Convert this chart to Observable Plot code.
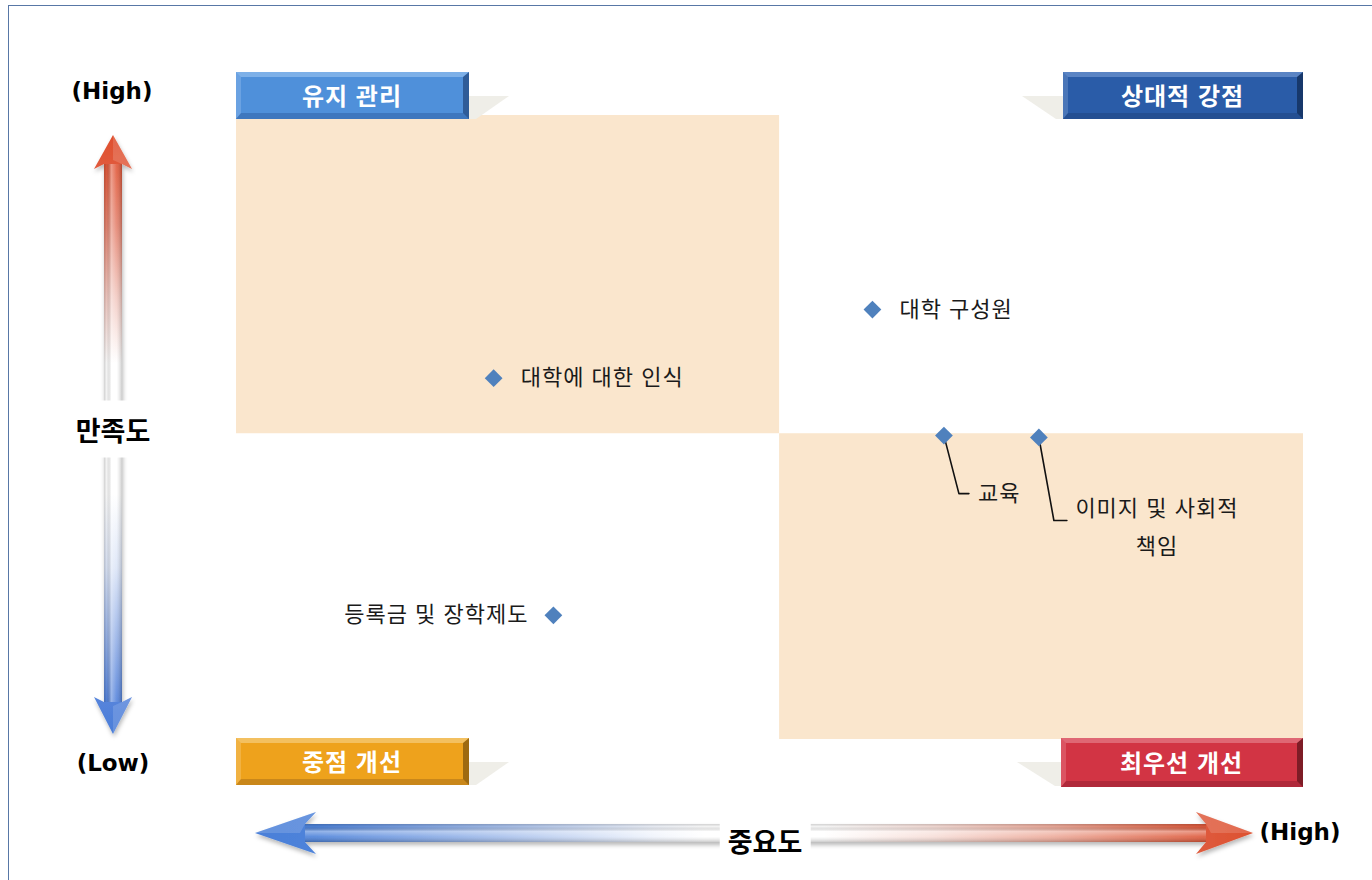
<!DOCTYPE html>
<html lang="ko">
<head>
<meta charset="utf-8">
<script src="https://cdn.jsdelivr.net/npm/d3@7"></script>
<script src="https://cdn.jsdelivr.net/npm/@observablehq/plot@0.6"></script>
<style>
  html, body { margin: 0; padding: 0; background: #fff; overflow: hidden; width: 1372px; height: 880px; }
  #wrap { position: relative; width: 1372px; height: 880px; font-family: "Noto Sans CJK KR", "Noto Sans", sans-serif; }
  #frame { position: absolute; left: 8px; top: 5px; width: 1420px; height: 920px; border-left: 1.5px solid #5877A6; border-top: 1.5px solid #5877A6; }
  #chart, #deco { position: absolute; left: 0; top: 0; }
  .badge { position: absolute; box-sizing: border-box; height: 47px; border-style: solid; border-width: 5px 6px 6px 5px;
           color: #fff; font-weight: 700; font-size: 24px; letter-spacing: 1px; display: flex; align-items: center; justify-content: center;
           line-height: 1; white-space: nowrap; }
  .lbl { position: absolute; transform: translate(-50%, -50%); white-space: nowrap; line-height: 1; color: #000; font-weight: 700; }
  .hl { font-family: "DejaVu Sans", sans-serif; font-size: 23px; }
  .ax { font-family: "Noto Sans CJK KR", sans-serif; font-size: 27px; background: #fff; }
</style>
</head>
<body>
<div id="wrap">
  <div id="frame"></div>
  <div id="chart"></div>
</div>
<script>
// ---------------- data ----------------
const items        = ["대학에 대한 인식", "대학 구성원", "교육", "이미지 및 사회적 책임", "등록금 및 장학제도"];
const importance   = [3.441, 3.796, 3.863, 3.952, 3.497];   // 중요도
const satisfaction = [3.579, 3.689, 3.487, 3.484, 3.199];   // 만족도
const importanceMean   = 3.709;
const satisfactionMean = 3.490;
const xDomain = [3.2, 4.2];
const yDomain = [3.0, 4.0];
const quadrantNames = ["유지 관리", "상대적 강점", "중점 개선", "최우선 개선"];
const axisTitles = ["중요도", "만족도"];
const levelTexts = ["(High)", "(Low)"];

// ---------------- layout ----------------
const W = 1372, H = 880;
const M = {top: 115, right: 69, bottom: 141, left: 236};
const sx = d3.scaleLinear(xDomain, [M.left, W - M.right]);
const sy = d3.scaleLinear(yDomain, [H - M.bottom, M.top]);

const data = items.map((name, i) => ({name, importance: importance[i], satisfaction: satisfaction[i]}));

// label placement (pixel offsets from each point)
const placement = {
  "대학에 대한 인식": {type: "right"},
  "대학 구성원": {type: "right"},
  "등록금 및 장학제도": {type: "left"},
  "교육": {type: "callout", path: [[15, 58], [25, 58]], text: [34, 58], anchor: "start", label: "교육"},
  "이미지 및 사회적 책임": {type: "callout", path: [[15, 83], [28, 83]], text: [118, 85], anchor: "middle", label: "이미지 및 사회적\n책임"}
};
const off = (d, [ox, oy]) => ({x: sx.invert(sx(d.importance) + ox), y: sy.invert(sy(d.satisfaction) + oy)});

const leaders = [];
const callouts = [];
for (const d of data) {
  const p = placement[d.name];
  if (p.type !== "callout") continue;
  leaders.push({name: d.name, x: d.importance, y: d.satisfaction});
  for (const o of p.path) leaders.push({name: d.name, ...off(d, o)});
  callouts.push({name: d.name, label: p.label, anchor: p.anchor, ...off(d, p.text)});
}

const quadrants = [
  {x1: xDomain[0], x2: importanceMean, y1: satisfactionMean, y2: yDomain[1]},
  {x1: importanceMean, x2: xDomain[1], y1: yDomain[0], y2: satisfactionMean}
];

const txt = {fontSize: 22, fill: "#1a1a1a", fontFamily: "\"Noto Sans CJK KR\", sans-serif"};

const chart = Plot.plot({
  width: W, height: H,
  marginTop: M.top, marginRight: M.right, marginBottom: M.bottom, marginLeft: M.left,
  x: {domain: xDomain, axis: null},
  y: {domain: yDomain, axis: null},
  style: {background: "transparent", fontFamily: "\"Noto Sans CJK KR\", sans-serif", letterSpacing: "1px"},
  marks: [
    Plot.rect(quadrants, {x1: "x1", x2: "x2", y1: "y1", y2: "y2", fill: "#FAE6CD"}),
    Plot.line(leaders, {x: "x", y: "y", z: "name", stroke: "#111", strokeWidth: 1.6}),
    Plot.dot(data, {x: "importance", y: "satisfaction", symbol: "diamond2", r: 8, fill: "#4F81BD"}),
    Plot.text(data.filter(d => placement[d.name].type === "right"),
      {x: "importance", y: "satisfaction", text: "name", textAnchor: "start", dx: 27, ...txt}),
    Plot.text(data.filter(d => placement[d.name].type === "left"),
      {x: "importance", y: "satisfaction", text: "name", textAnchor: "end", dx: -25, ...txt}),
    Plot.text(callouts.filter(d => d.anchor === "start"),
      {x: "x", y: "y", text: "label", textAnchor: "start", ...txt}),
    Plot.text(callouts.filter(d => d.anchor === "middle"),
      {x: "x", y: "y", text: "label", textAnchor: "middle", lineHeight: 1.75, ...txt})
  ]
});
document.getElementById("chart").appendChild(chart);

// ---------------- decoration: arrows, badges, titles ----------------
const wrap = document.getElementById("wrap");
const ns = "http://www.w3.org/2000/svg";
const deco = document.createElementNS(ns, "svg");
deco.setAttribute("id", "deco");
deco.setAttribute("width", W);
deco.setAttribute("height", H);
deco.innerHTML = `
<defs>
  <filter id="sh" x="-10%" y="-10%" width="120%" height="130%">
    <feDropShadow dx="1" dy="3" stdDeviation="2" flood-color="#000" flood-opacity="0.28"/>
  </filter>
  <linearGradient id="vg" gradientUnits="userSpaceOnUse" x1="0" y1="135" x2="0" y2="735">
    <stop offset="0" stop-color="#DF4E2D"/>
    <stop offset="0.06" stop-color="#E15C3E"/>
    <stop offset="0.15" stop-color="#E4836F"/>
    <stop offset="0.27" stop-color="#F2C9C1"/>
    <stop offset="0.38" stop-color="#FFFFFF"/>
    <stop offset="0.6" stop-color="#FFFFFF"/>
    <stop offset="0.72" stop-color="#DCE5F7"/>
    <stop offset="0.85" stop-color="#8FACE5"/>
    <stop offset="0.94" stop-color="#5684DB"/>
    <stop offset="1" stop-color="#4A7DD8"/>
  </linearGradient>
  <linearGradient id="hg" gradientUnits="userSpaceOnUse" x1="255" y1="0" x2="1253" y2="0">
    <stop offset="0" stop-color="#4A7FD8"/>
    <stop offset="0.06" stop-color="#4E83DA"/>
    <stop offset="0.12" stop-color="#6C97E0"/>
    <stop offset="0.25" stop-color="#A9C1EC"/>
    <stop offset="0.40" stop-color="#F0F4FC"/>
    <stop offset="0.45" stop-color="#FFFFFF"/>
    <stop offset="0.57" stop-color="#FFFFFF"/>
    <stop offset="0.68" stop-color="#F7DED8"/>
    <stop offset="0.80" stop-color="#EDAB9B"/>
    <stop offset="0.90" stop-color="#E2755B"/>
    <stop offset="0.95" stop-color="#DE5A3C"/>
    <stop offset="1" stop-color="#DD5030"/>
  </linearGradient>
  <linearGradient id="shadeV" x1="0" y1="0" x2="1" y2="0">
    <stop offset="0" stop-color="#000" stop-opacity="0.18"/>
    <stop offset="0.15" stop-color="#000" stop-opacity="0.04"/>
    <stop offset="0.4" stop-color="#fff" stop-opacity="0.4"/>
    <stop offset="0.7" stop-color="#fff" stop-opacity="0.1"/>
    <stop offset="1" stop-color="#000" stop-opacity="0.2"/>
  </linearGradient>
  <linearGradient id="shadeH" x1="0" y1="0" x2="0" y2="1">
    <stop offset="0" stop-color="#000" stop-opacity="0.18"/>
    <stop offset="0.15" stop-color="#000" stop-opacity="0.04"/>
    <stop offset="0.4" stop-color="#fff" stop-opacity="0.4"/>
    <stop offset="0.7" stop-color="#fff" stop-opacity="0.1"/>
    <stop offset="1" stop-color="#000" stop-opacity="0.2"/>
  </linearGradient>
</defs>
<g fill="#EFEEE8">
  <polygon points="469,96 509,96 476,119 469,119"/>
  <polygon points="1022,96 1063,96 1063,119 1056,119"/>
  <polygon points="469,762 509,762 476,785 469,785"/>
  <polygon points="1017,762 1061,762 1061,786 1055,786"/>
</g>
<g filter="url(#sh)">
  <path d="M113,135 L132,169 L122,164 L122,702 L132,697 L113,734 L94,697 L104,702 L104,164 L94,169 Z" fill="url(#vg)"/>
  <rect x="104" y="164" width="18" height="538" fill="url(#shadeV)"/>
  <path d="M113,135 L132,169 L122,164 L113,160 Z" fill="#fff" fill-opacity="0.15"/>
  <path d="M113,734 L132,697 L122,702 L113,706 Z" fill="#fff" fill-opacity="0.15"/>
</g>
<g filter="url(#sh)">
  <path d="M255,833 L316,812 L305,824 L1206,824 L1196,812 L1253,833 L1196,854 L1206,842 L305,842 L316,854 Z" fill="url(#hg)"/>
  <rect x="305" y="824" width="901" height="18" fill="url(#shadeH)"/>
  <path d="M255,833 L316,812 L305,824 L300,833 Z" fill="#fff" fill-opacity="0.15"/>
  <path d="M1253,833 L1196,812 L1206,824 L1211,833 Z" fill="#fff" fill-opacity="0.15"/>
</g>`;
wrap.appendChild(deco);

// badges
const badgeStyles = [
  {left: 236, top: 72, width: 233, height: 47, bg: "#4F90DA", bc: "#7DB0E8 #2F5C98 #3E77BE #6BA2E2"},
  {left: 1063, top: 72, width: 240, height: 47, bg: "#2A5CA8", bc: "#5A84C4 #17386B #244F92 #4A76B8"},
  {left: 236, top: 738, width: 233, height: 47, bg: "#EEA21C", bc: "#F3C060 #9E6A10 #C9871A #F1B242"},
  {left: 1061, top: 738, width: 242, height: 49, bg: "#D23444", bc: "#DF6774 #7E1C26 #B0293A #DB5462"}
];
quadrantNames.forEach((name, i) => {
  const s = badgeStyles[i];
  const el = document.createElement("div");
  el.className = "badge";
  el.textContent = name;
  Object.assign(el.style, {left: s.left + "px", top: s.top + "px", width: s.width + "px", height: s.height + "px",
    background: s.bg, borderColor: s.bc});
  wrap.appendChild(el);
});

// axis titles and level texts
const labels = [
  {text: levelTexts[0], cls: "lbl hl", x: 112, y: 91},
  {text: levelTexts[1], cls: "lbl hl", x: 113, y: 763},
  {text: levelTexts[0], cls: "lbl hl", x: 1300, y: 832},
  {text: axisTitles[1], cls: "lbl ax", x: 113, y: 429, pad: "15px 8px"},
  {text: axisTitles[0], cls: "lbl ax", x: 765, y: 840, pad: "4px 8px"}
];
for (const l of labels) {
  const el = document.createElement("div");
  el.className = l.cls;
  el.textContent = l.text;
  el.style.left = l.x + "px";
  el.style.top = l.y + "px";
  if (l.pad) el.style.padding = l.pad;
  wrap.appendChild(el);
}
</script>
</body>
</html>
